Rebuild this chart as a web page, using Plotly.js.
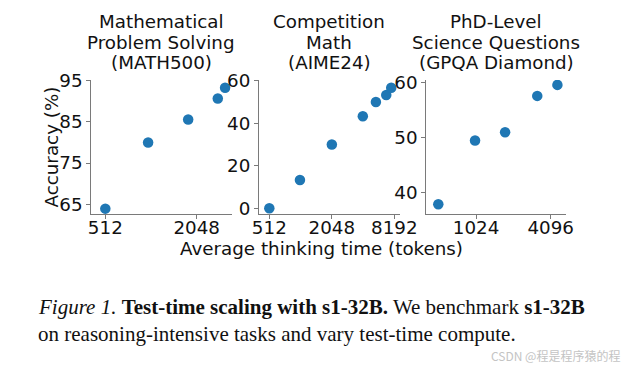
<!DOCTYPE html>
<html>
<head>
<meta charset="utf-8">
<script src="https://cdn.plot.ly/plotly-3.0.1.min.js"></script>
<style>html,body{margin:0;padding:0;background:#fff;}#chart{width:628px;height:366px;}</style>
</head>
<body>
<div id="chart"></div>
<script>
// Data
const mathTokens = [512, 980, 1800, 2820, 3150];
const mathAcc = [63.9, 80.0, 85.6, 90.7, 93.3];
const aimeTokens = [512, 1010, 2048, 4070, 5440, 6840, 7640];
const aimeAcc = [0.0, 13.3, 30.0, 43.3, 50.0, 53.3, 56.7];
const gpqaTokens = [508, 1005, 1756, 3190, 4640];
const gpqaAcc = [37.9, 49.5, 51.0, 57.6, 59.6];

const mathXTicks = [512, 2048];
const aimeXTicks = [512, 2048, 8192];
const gpqaXTicks = [1024, 4096];
const mathYTicks = [65, 75, 85, 95];
const aimeYTicks = [0, 20, 40, 60];
const gpqaYTicks = [40, 50, 60];

const panelTitles = [
  ['Mathematical', 'Problem Solving', '(MATH500)'],
  ['Competition', 'Math', '(AIME24)'],
  ['PhD-Level', 'Science Questions', '(GPQA Diamond)']
];
const xTitle = 'Average thinking time (tokens)';
const yTitle = 'Accuracy (%)';
const captionLine1 = '<i>Figure 1.</i> <b>Test-time scaling with s1-32B.</b> We benchmark <b>s1-32B</b>';
const captionLine2 = 'on reasoning-intensive tasks and vary test-time compute.';
const watermark = 'CSDN @程是程序猿的程';

const W = 628, H = 366;
const px = v => v / W;
const py = v => 1 - v / H;
const dot = '#1f77b4';
const axisCol = '#7a7a7a';
const FS = 18.3;
const tickFont = {family: 'DejaVu Sans', size: FS, color: '#111'};

function mk(x, y, xa, ya) {
  return {x: x, y: y, xaxis: xa, yaxis: ya, type: 'scatter', mode: 'markers',
    marker: {color: dot, size: 10.5}, hoverinfo: 'skip', showlegend: false};
}

function xax(dom, range, ticks, anchor) {
  return {domain: dom, type: 'log', range: range, tickvals: ticks, ticktext: ticks.map(String),
    showgrid: false, zeroline: false, showline: true, linecolor: axisCol, linewidth: 1,
    ticks: 'outside', ticklen: 3.5, tickcolor: axisCol, tickwidth: 1, tickfont: tickFont,
    ticklabelstandoff: -6, anchor: anchor, fixedrange: true};
}
function yax(dom, range, ticks, anchor) {
  return {domain: dom, range: range, tickvals: ticks, ticktext: ticks.map(String),
    showgrid: false, zeroline: false, showline: true, linecolor: axisCol, linewidth: 1,
    ticks: 'outside', ticklen: 3.5, tickcolor: axisCol, tickwidth: 1, tickfont: tickFont,
    anchor: anchor, fixedrange: true};
}

const L2 = Math.log10(2);
const yDom = [py(214), py(80)];
const d1 = [px(90.7), px(231.7)], d2 = [px(258.5), px(400)], d3 = [px(425.7), px(566)];

const traces = [
  mk(mathTokens, mathAcc, 'x', 'y'),
  mk(aimeTokens, aimeAcc, 'x2', 'y2'),
  mk(gpqaTokens, gpqaAcc, 'x3', 'y3')
];

const titleFont = {family: 'DejaVu Sans', size: FS, color: '#111'};
const annotations = [];
const centers = [161, 329, 496];
const lineY = [22, 42.2, 62.4];
panelTitles.forEach((lines, i) => {
  lines.forEach((t, j) => {
    annotations.push({text: t, x: px(centers[i]), y: py(lineY[j]), xref: 'paper', yref: 'paper',
      xanchor: 'center', yanchor: 'middle', showarrow: false, font: titleFont});
  });
});
annotations.push(
  {text: xTitle, x: px(321), y: py(248.5), xref: 'paper', yref: 'paper', xanchor: 'center', yanchor: 'middle', showarrow: false, font: titleFont},
  {text: yTitle, x: px(50.5), y: py(147), xref: 'paper', yref: 'paper', xanchor: 'center', yanchor: 'middle', textangle: -90, showarrow: false, font: titleFont},
  {text: captionLine1, x: px(35.5), y: py(306.5), xref: 'paper', yref: 'paper', xanchor: 'left', yanchor: 'middle', showarrow: false,
    font: {family: 'Liberation Serif', size: 21, color: '#111'}},
  {text: captionLine2, x: px(35.5), y: py(334), xref: 'paper', yref: 'paper', xanchor: 'left', yanchor: 'middle', showarrow: false,
    font: {family: 'Liberation Serif', size: 21, color: '#111'}},
  {text: watermark, x: px(622), y: py(355), xref: 'paper', yref: 'paper', xanchor: 'right', yanchor: 'middle', showarrow: false,
    font: {family: 'Noto Sans CJK SC', size: 12, color: '#c4c4c4'}}
);

const layout = {
  width: W, height: H, margin: {l: 0, r: 0, t: 0, b: 0},
  paper_bgcolor: '#fff', plot_bgcolor: '#fff', showlegend: false,
  xaxis: xax(d1, [8.68 * L2, 11.766 * L2], mathXTicks, 'y'),
  yaxis: yax(yDom, [62.6, 95.2], mathYTicks, 'x'),
  xaxis2: xax(d2, [8.654 * L2, 13.18 * L2], aimeXTicks, 'y2'),
  yaxis2: yax(yDom, [-2.68, 60.33], aimeYTicks, 'x2'),
  xaxis3: xax(d3, [8.651 * L2, 12.41 * L2], gpqaXTicks, 'y3'),
  yaxis3: yax(yDom, [36.13, 60.49], gpqaYTicks, 'x3'),
  annotations: annotations
};

Plotly.newPlot('chart', traces, layout, {staticPlot: true, displayModeBar: false});
</script>
</body>
</html>
